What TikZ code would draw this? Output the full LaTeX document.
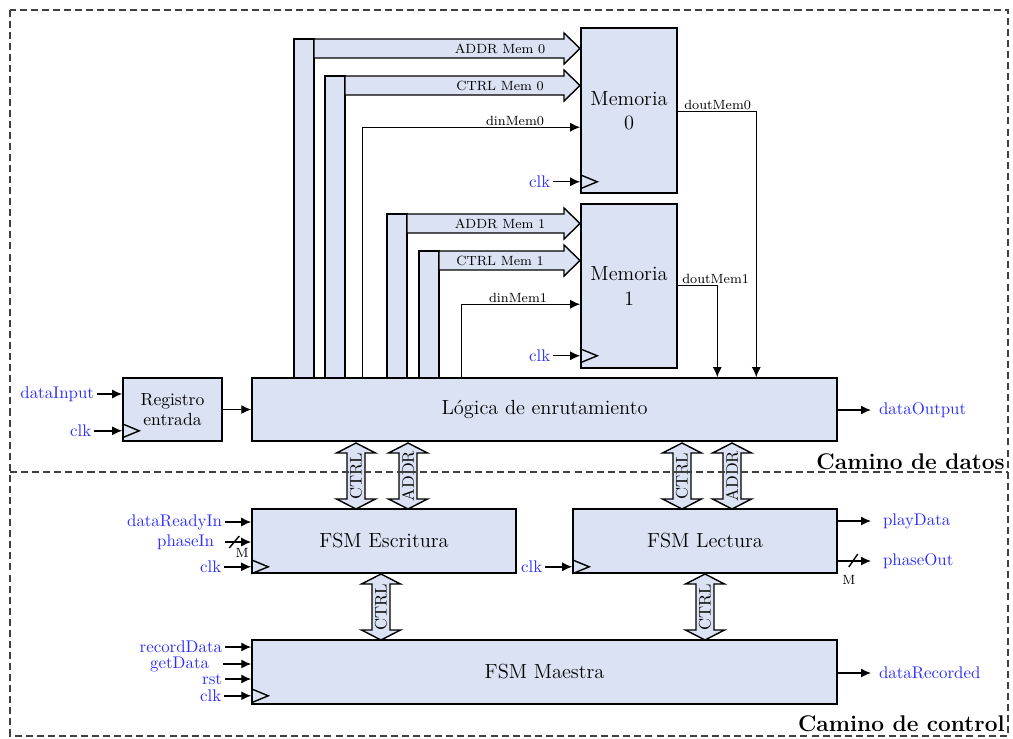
\documentclass[tikz,border=0pt]{standalone}
\usepackage{fontspec}
\usetikzlibrary{arrows.meta,calc,positioning}

\definecolor{blkfill}{RGB}{218,226,243}
\definecolor{sigblue}{RGB}{45,45,255}

\tikzset{
  blk/.style={draw, line width=0.9pt, fill=blkfill, inner sep=0pt, align=center, font=\fontsize{11.6}{13.8}\selectfont},
  sig/.style={line width=0.8pt, -{Latex[length=2mm,width=1.8mm]}},
  bus/.style={draw, line width=0.8pt, fill=blkfill},
  io/.style={text=sigblue, inner sep=1.5pt, font=\fontsize{9.6}{11}\selectfont},
  buslbl/.style={inner sep=0pt, font=\fontsize{7.6}{9}\selectfont},
  dbllbl/.style={inner sep=0pt, rotate=90, font=\fontsize{9.5}{11}\selectfont},
  region/.style={dash pattern=on 4pt off 2.3pt, line width=0.6pt, draw=black!75},
  zonelbl/.style={inner sep=0pt, font=\bfseries\fontsize{12.9}{14}\selectfont},
  clktri/.style={line width=0.8pt},
}

% bus from the routing logic to a memory: x left, y top, name, text
\newcommand{\membus}[4]{
  \draw[bus] (#1,#2) rectangle (#1+20,378);
  \draw[bus] (#1+20,#2) -- (564,#2) -- (564,#2-6) -- (580,#2+9.5) -- (564,#2+25) -- (564,#2+19) -- (#1+20,#2+19) -- cycle;
  \node[buslbl] (#3) at (500,#2+10) {#4};
}
% two-way bus: x, y top, y bottom, name, text
\newcommand{\dblbus}[5]{
  \draw[bus] (#1,#2) -- (#1+19.5,#2+10) -- (#1+9,#2+10) -- (#1+9,#3-10) -- (#1+19.5,#3-10) -- (#1,#3)
    -- (#1-19.5,#3-10) -- (#1-9,#3-10) -- (#1-9,#2+10) -- (#1-19.5,#2+10) -- cycle;
  \node[dbllbl] (#4) at (#1,{(#2+#3)/2}) {#5};
}
% clock mark on a block edge
\newcommand{\clkmark}[1]{\draw[clktri] (#1) ++(0,-7) -- ++(17,7) -- ++(-17,7);}

\begin{document}
\begin{tikzpicture}[x=0.02cm, y=-0.02cm]
\useasboundingbox (0,0) rectangle (1013,738);

% blocks
\node[blk, minimum width=1.92cm, minimum height=3.3cm] (mem0) at (629,110.5) {Memoria\\0};
\node[blk, minimum width=1.92cm, minimum height=3.28cm] (mem1) at (629,286) {Memoria\\1};
\node[blk, minimum width=11.7cm, minimum height=1.26cm] (logic) at (544.5,409.5) {Lógica de enrutamiento};
\node[blk, minimum width=1.98cm, minimum height=1.26cm, font=\fontsize{10}{11.6}\selectfont] (reg) at (172.5,409.5) {Registro\\entrada};
\node[blk, minimum width=5.28cm, minimum height=1.28cm] (fsmw) at (384,541) {FSM Escritura};
\node[blk, minimum width=5.28cm, minimum height=1.28cm] (fsml) at (705,541) {FSM Lectura};
\node[blk, minimum width=11.7cm, minimum height=1.28cm] (fsmm) at (544.5,672) {FSM Maestra};

% buses to the memories
\membus{294}{39}{addr0}{ADDR Mem 0}
\membus{325}{76}{ctrl0}{CTRL Mem 0}
\membus{387}{214}{addr1}{ADDR Mem 1}
\membus{419}{251}{ctrl1}{CTRL Mem 1}

% data in / out of the memories
\draw[sig] ($(logic.north west)+(111,0)$) |- ($(mem0.north west)+(0,100)$);
\node[buslbl, anchor=south] (din0) at (515,126) {dinMem0};
\draw[sig] ($(logic.north west)+(210,0)$) |- ($(mem1.north west)+(0,101)$);
\node[buslbl, anchor=south] (din1) at (518,303) {dinMem1};
\draw[sig] ($(mem0.north east)+(0,84)$) -| ($(logic.north west)+(505,0)$);
\node[buslbl, anchor=south west] (dout0) at (684,110) {doutMem0};
\draw[sig] ($(mem1.north east)+(0,82)$) -| ($(logic.north west)+(466,0)$);
\node[buslbl, anchor=south west] (dout1) at (682,284) {doutMem1};

% clocks
\coordinate (m0ck) at ($(mem0.south west)+(0,-12)$);
\coordinate (m1ck) at ($(mem1.south west)+(0,-13)$);
\coordinate (rgck) at ($(reg.south west)+(0,-11)$);
\coordinate (fwck) at ($(fsmw.south west)+(0,-7)$);
\coordinate (flck) at ($(fsml.south west)+(0,-7)$);
\coordinate (fmck) at ($(fsmm.south west)+(0,-9)$);
\foreach \c in {m0ck,m1ck,rgck,fwck,flck,fmck} {\clkmark{\c}}
\node[io, anchor=east] (m0ckl) at ($(m0ck)+(-27,0)$) {clk};
\node[io, anchor=east] (m1ckl) at ($(m1ck)+(-27,0)$) {clk};
\node[io, anchor=east] (rgckl) at ($(rgck)+(-28,0)$) {clk};
\node[io, anchor=east] (fwckl) at ($(fwck)+(-27,0)$) {clk};
\node[io, anchor=east] (flckl) at ($(flck)+(-27,0)$) {clk};
\node[io, anchor=east] (fmckl) at ($(fmck)+(-27,0)$) {clk};
\foreach \c in {m0ck,m1ck,rgck,fwck,flck,fmck} {\draw[sig] (\c l) -- (\c);}

% register and routing logic
\node[io, anchor=east] (dinput) at (97,394) {dataInput};
\draw[sig] (dinput) -- (dinput -| reg.west);
\draw[sig] (reg.east) -- (reg.east -| logic.west);
\node[io, anchor=west] (doutput) at (876,410) {dataOutput};
\draw[sig] (doutput.west -| logic.east) -- ($(doutput.west)+(-5,0)$);

% FSM Escritura
\node[io, anchor=east] (dri) at (225,522) {dataReadyIn};
\draw[sig] (dri) -- (dri -| fsmw.west);
\node[io, anchor=east] (phin) at (217,542) {phaseIn};
\draw[sig] ($(phin.east)+(8,0)$) -- (phin -| fsmw.west);
\draw[line width=0.8pt] ($(phin -| fsmw.west)+(-22,6)$) -- ++(10,-12);
\node[buslbl] (phinm) at ($(phin -| fsmw.west)+(-9,11)$) {M};

% FSM Lectura
\node[io, anchor=west] (play) at (880,521) {playData};
\draw[sig] (play.west -| fsml.east) -- ($(play.west)+(-9,0)$);
\node[io, anchor=west] (phout) at (880,561) {phaseOut};
\draw[sig] (phout.west -| fsml.east) -- ($(phout.west)+(-9,0)$);
\draw[line width=0.8pt] ($(phout.west -| fsml.east)+(11,6)$) -- ++(9,-13);
\node[buslbl] (phoutm) at ($(phout.west -| fsml.east)+(11,19)$) {M};

% FSM Maestra
\node[io, anchor=east] (rec) at (225,647) {recordData};
\draw[sig] (rec) -- (rec -| fsmm.west);
\node[io, anchor=east] (get) at (212,664) {getData};
\draw[sig] ($(get.east)+(11,0)$) -- (get -| fsmm.west);
\node[io, anchor=east] (rst) at (225,679) {rst};
\draw[sig] (rst) -- (rst -| fsmm.west);
\node[io, anchor=west] (drec) at (876,673) {dataRecorded};
\draw[sig] (drec.west -| fsmm.east) -- ($(drec.west)+(-5,0)$);

% control and address buses between the blocks
\dblbus{356}{443}{509}{wctrl}{CTRL}
\dblbus{408}{443}{509}{waddr}{ADDR}
\dblbus{682}{443}{509}{lctrl}{CTRL}
\dblbus{732}{443}{509}{laddr}{ADDR}
\dblbus{381}{574}{640}{mwctrl}{CTRL}
\dblbus{705}{574}{640}{mlctrl}{CTRL}

% regions
\draw[region] (10,10) rectangle (1008,736);
\draw[region] (10,472) -- (1008,472);
\node[zonelbl, anchor=base east] (zdatos) at (1005,469) {Camino de datos};
\node[zonelbl, anchor=base east] (zctrl) at (1005,731) {Camino de control};
\end{tikzpicture}
\end{document}
